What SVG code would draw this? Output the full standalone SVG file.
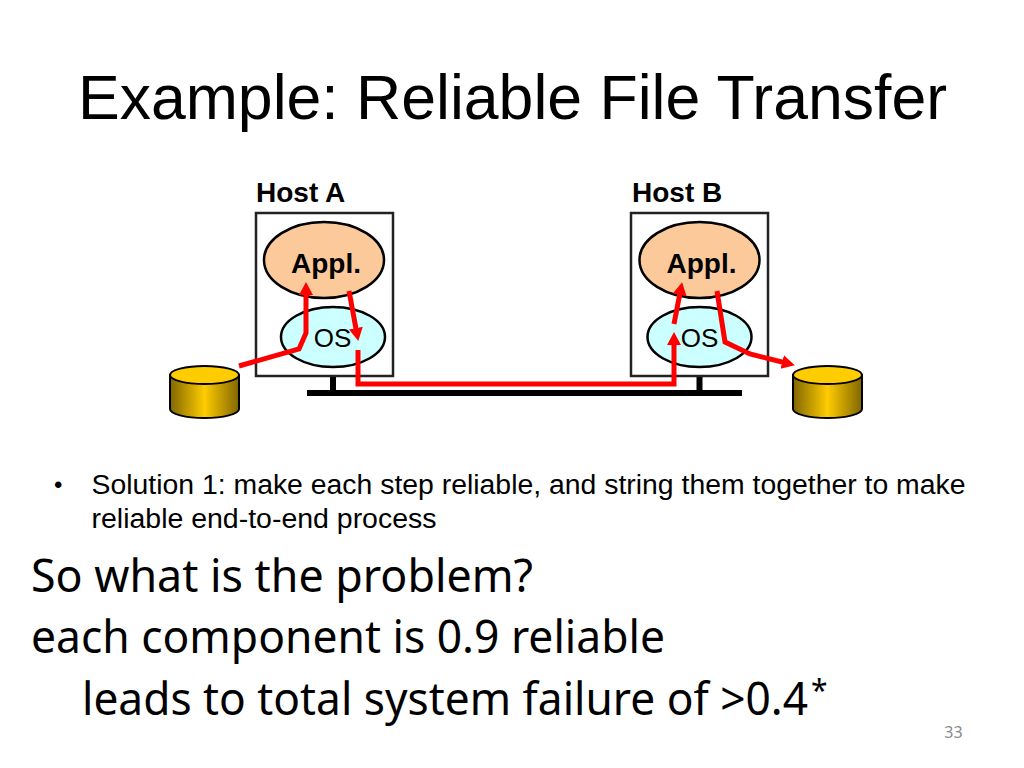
<svg xmlns="http://www.w3.org/2000/svg" width="1024" height="768" viewBox="0 0 1024 768">
<style>
.sans{font-family:"Liberation Sans",Arial,sans-serif;fill:#000}
.big{font-family:"Noto Sans","Open Sans",sans-serif;fill:#000;font-size:46px}
.lbl{font-size:28px;font-weight:bold}
.host{fill:#fff;stroke:#222;stroke-width:2.500}
.appl{fill:#fcc99b;stroke:#000;stroke-width:2.500}
.os{fill:#ccffff;stroke:#000;stroke-width:2.500}
.wire{fill:none;stroke:#000;stroke-width:6}
.red{fill:none;stroke:#f00;stroke-width:5;stroke-linejoin:miter}
.diskb{fill:url(#gold);stroke:#000;stroke-width:2}
.diskt{fill:#ffcc00;stroke:#000;stroke-width:2}
</style>
<defs>
<linearGradient id="gold" x1="0" y1="0" x2="1" y2="0">
<stop offset="0" stop-color="#806600"/><stop offset="0.5" stop-color="#ffcc00"/><stop offset="1" stop-color="#806600"/>
</linearGradient>
<marker id="arrow" markerUnits="userSpaceOnUse" markerWidth="15" markerHeight="15" refX="6" refY="7" orient="auto"><path d="M0 0L13 7L0 14Z" fill="#f00"/></marker>
</defs>
<rect width="1024" height="768" fill="#fff"/>
<text class="sans" x="78" y="119" font-size="63" textLength="869" lengthAdjust="spacingAndGlyphs">Example: Reliable File Transfer</text>
<g id="wires">
<path class="wire" d="M333 376V392M699.500 376V393M307 393H742"/>
</g>
<g id="hostA">
<rect class="host" x="256" y="213" width="137" height="163"/>
<text class="sans lbl" x="256" y="202">Host A</text>
</g>
<g id="hostB">
<rect class="host" x="631" y="213" width="137" height="163"/>
<text class="sans lbl" x="632" y="202">Host B</text>
</g>
<g id="applA">
<ellipse class="appl" cx="324" cy="260" rx="60" ry="38"/>
<text class="sans lbl" x="326" y="273" text-anchor="middle">Appl.</text>
</g>
<g id="applB">
<ellipse class="appl" cx="699.500" cy="260" rx="60" ry="38"/>
<text class="sans lbl" x="701.500" y="273" text-anchor="middle">Appl.</text>
</g>
<g id="osA">
<ellipse class="os" cx="333" cy="337" rx="52" ry="30"/>
<text class="sans" x="332.500" y="347" font-size="26" text-anchor="middle">OS</text>
</g>
<g id="osB">
<ellipse class="os" cx="699.500" cy="337" rx="52" ry="30"/>
<text class="sans" x="699.500" y="347" font-size="26" text-anchor="middle">OS</text>
</g>
<g id="diskA">
<path class="diskb" d="M170 375V409A34.500 9 0 0 0 239 409V375Z"/>
<ellipse class="diskt" cx="204.500" cy="375" rx="34.500" ry="9"/>
</g>
<g id="diskB">
<path class="diskb" d="M793 375V409A34.500 9 0 0 0 862 409V375Z"/>
<ellipse class="diskt" cx="827.500" cy="375" rx="34.500" ry="9"/>
</g>
<g id="connectors">
<path class="red" marker-end="url(#arrow)" d="M239 366L299 349L306 333V289"/>
<path class="red" marker-end="url(#arrow)" d="M349 291L357 334"/>
<path class="red" marker-end="url(#arrow)" d="M358 350V384H674V339"/>
<path class="red" marker-end="url(#arrow)" d="M674 324L680.800 289"/>
<path class="red" marker-end="url(#arrow)" d="M717 291L725 342L750 354L788 363.500"/>
</g>
<text class="sans" x="54" y="493" font-size="24">•</text>
<text class="sans" x="91.500" y="494" font-size="27" textLength="874" lengthAdjust="spacingAndGlyphs">Solution 1: make each step reliable, and string them together to make</text>
<text class="sans" x="91.500" y="528" font-size="27" textLength="345" lengthAdjust="spacingAndGlyphs">reliable end-to-end process</text>
<text class="big" x="31" y="592" textLength="502" lengthAdjust="spacingAndGlyphs">So what is the problem?</text>
<text class="big" x="31" y="653" textLength="634" lengthAdjust="spacingAndGlyphs">each component is 0.9 reliable</text>
<text class="big" x="82" y="715" textLength="726" lengthAdjust="spacingAndGlyphs">leads to total system failure of &gt;0.4</text>
<text class="big" x="811" y="701" style="font-size:30px">*</text>
<text x="953.500" y="738" font-family="'Noto Sans',sans-serif" font-size="16" fill="#8b8b8b" text-anchor="middle">33</text>
</svg>
